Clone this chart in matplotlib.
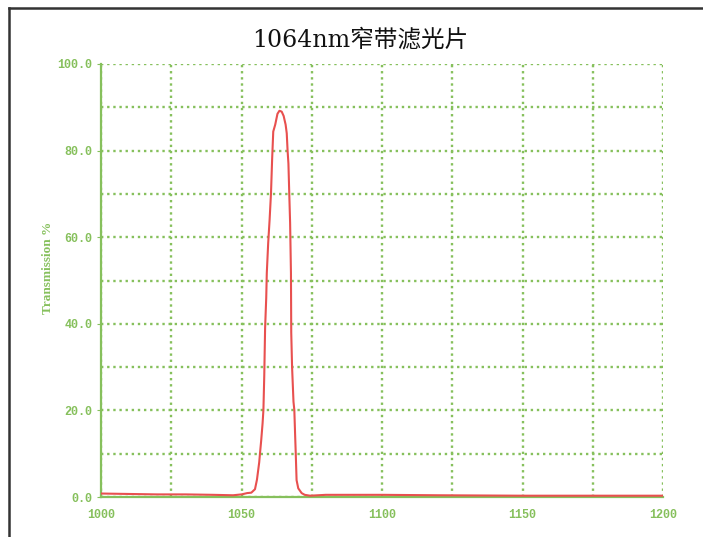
import numpy as np
import matplotlib
matplotlib.use('Agg')
import matplotlib.pyplot as plt
from matplotlib.lines import Line2D

# wavelength (nm) and transmission (%)
wavelength = [1000, 1010, 1020, 1030, 1040, 1047, 1050, 1052, 1053.5, 1054.8,
              1055.5, 1055.8, 1056.3, 1056.6, 1057.0, 1057.5, 1057.8, 1058.1,
              1058.4, 1058.8, 1059.0, 1059.5, 1060.0, 1060.5, 1060.9, 1061.3,
              1062.0, 1062.8, 1063.5, 1064.3, 1065.0, 1065.7, 1066.1, 1066.4,
              1066.7, 1067.0, 1067.3, 1067.6, 1067.7, 1068.0, 1068.5, 1068.8,
              1069.1, 1069.3, 1069.6, 1070.2, 1071.4, 1072.5, 1074.4, 1080,
              1100, 1120, 1150, 1200]
transmission = [0.8, 0.7, 0.6, 0.6, 0.5, 0.4, 0.6, 0.9, 1.0, 1.8,
                4.0, 5.5, 8.0, 10.2, 13.0, 17.0, 20.1, 28.0,
                39.0, 46.0, 51.7, 58.7, 64.0, 70.2, 78.0, 84.4,
                86.0, 88.5, 89.2, 89.0, 88.0, 86.0, 84.0, 80.0,
                77.0, 70.0, 63.3, 51.7, 38.0, 30.0, 22.0, 20.1,
                14.0, 10.2, 3.9, 2.0, 0.9, 0.5, 0.3, 0.5,
                0.5, 0.4, 0.3, 0.3]

x_major = [1000, 1050, 1100, 1150, 1200]
y_major = [0, 20, 40, 60, 80, 100]
y_labels = ['0.0', '20.0', '40.0', '60.0', '80.0', '100.0']

green = '#86c05c'
red = '#e8504f'

fig = plt.figure(figsize=(7.03, 5.37), dpi=100)
ax = fig.add_axes([101/703, 1 - 497/537, 562/703, 433/537])

ax.plot(wavelength, transmission, color=red, lw=1.5, zorder=3)

ax.set_xlim(1000, 1200)
ax.set_ylim(0, 100)
ax.set_xticks(x_major)
ax.set_xticks(np.arange(1000, 1201, 25), minor=True)
ax.set_yticks(y_major)
ax.set_yticklabels(y_labels)
ax.set_yticks(np.arange(0, 101, 10), minor=True)

ax.grid(which='both', color=green, lw=1.7, linestyle=(0, (1, 1.6)))
for s in ['top', 'right']:
    ax.spines[s].set_visible(False)
for s in ['left', 'bottom']:
    ax.spines[s].set_color(green)
    ax.spines[s].set_linewidth(1.6)

for t in ax.get_xticklabels() + ax.get_yticklabels():
    t.set_fontfamily('Liberation Mono')
    t.set_fontweight('bold')
    t.set_fontsize(8.5)
ax.tick_params(axis='x', which='both', length=0, colors=green, pad=9)
ax.tick_params(axis='y', which='major', length=3, colors=green, pad=3)
ax.tick_params(axis='y', which='minor', length=0)

ax.set_ylabel('Transmission %', color=green, family='Liberation Serif',
              weight='bold', size=9.5)
ax.yaxis.set_label_coords(-0.084, 0.53)

fig.text(360/703, 1 - 40/537, '1064nm窄带滤光片', ha='center', va='center',
         fontsize=17, family=['DejaVu Serif', 'Noto Sans CJK SC'], color='#111111')

# outer frame (left and top edges)
fig.add_artist(Line2D([9/703, 9/703], [0, 1 - 8/537], transform=fig.transFigure,
                      color='#333333', lw=1.8))
fig.add_artist(Line2D([9/703, 1], [1 - 8/537, 1 - 8/537], transform=fig.transFigure,
                      color='#333333', lw=1.8))

fig.savefig('out.png', dpi=100)
